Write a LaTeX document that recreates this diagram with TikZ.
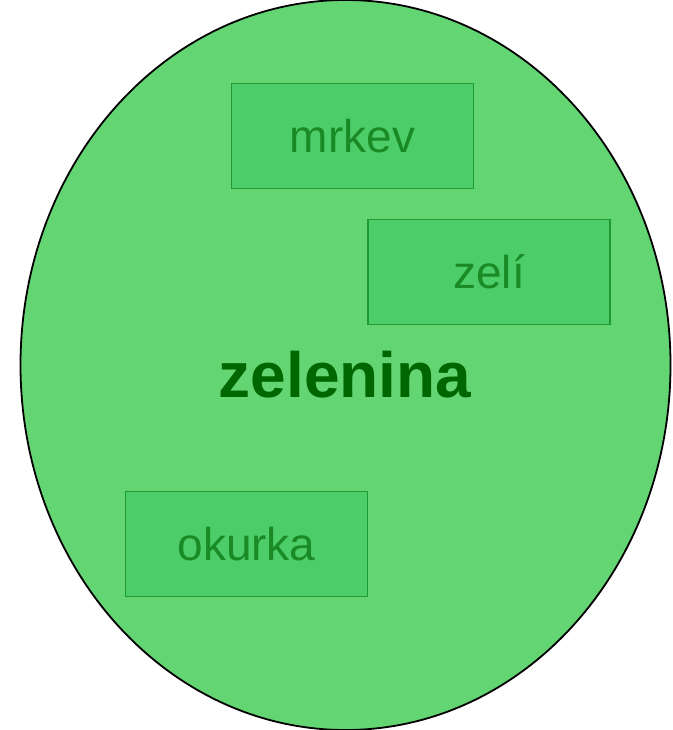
\documentclass[tikz,border=0pt]{standalone}
\usepackage{fontspec}
\setmainfont{Liberation Sans}
\definecolor{ellfill}{HTML}{63D673}
\definecolor{boxfill}{HTML}{4CCD69}
\definecolor{boxline}{HTML}{1E9A2E}
\definecolor{boxtext}{HTML}{1A8A25}
\definecolor{titletext}{HTML}{006600}
\begin{document}
\begin{tikzpicture}[x=1pt,y=-1pt,
  itembox/.style={draw=boxline, line width=1.8pt, fill=boxfill, minimum width=242pt, minimum height=105pt, inner sep=0pt, text=boxtext, font=\fontsize{46}{52}\selectfont},
  titlelabel/.style={text=titletext, font=\fontsize{64}{72}\selectfont\bfseries, inner sep=0pt},
]
\useasboundingbox (0,0) rectangle (672,730);
\begin{scope}
\clip (0,0) rectangle (672,730);
\draw[black, line width=1.8pt, fill=ellfill] (345.5,365) ellipse [x radius=325, y radius=365];
\end{scope}
\node[itembox] (mrkev) at (352.5,136) {mrkev};
\node[itembox] (zeli) at (489,272) {zelí};
\node[itembox] (okurka) at (246.5,544) {okurka};
\node[titlelabel] (zelenina) at (345,375) {zelenina};
\end{tikzpicture}
\end{document}
